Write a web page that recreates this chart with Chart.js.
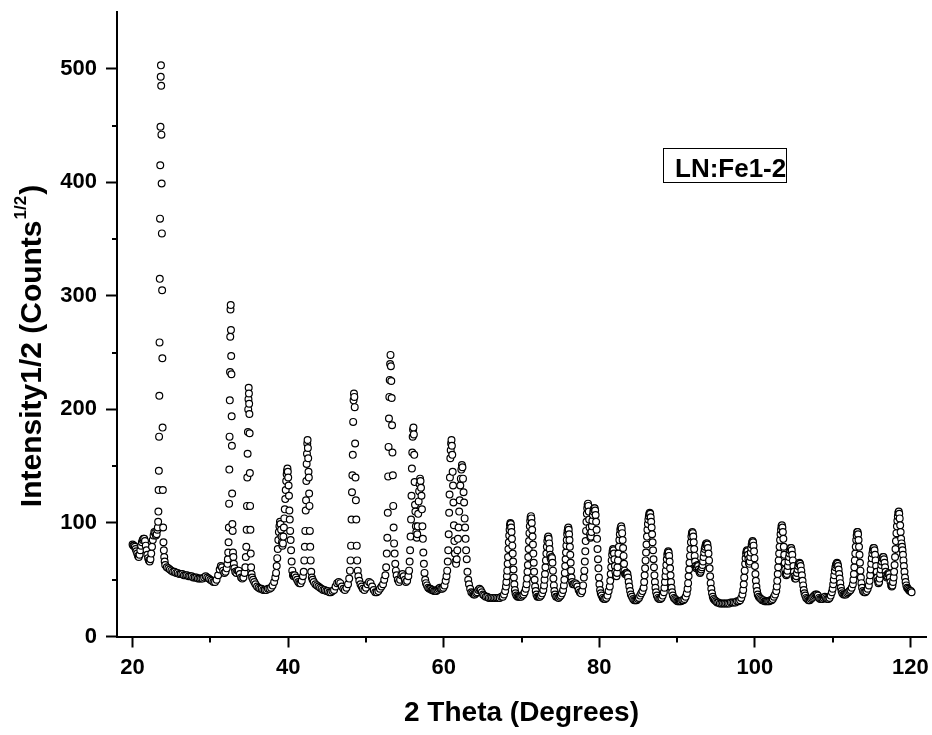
<!DOCTYPE html>
<html>
<head>
<meta charset="utf-8">
<title>LN:Fe1-2 XRD</title>
<script src="https://cdn.jsdelivr.net/npm/chart.js@4.4.0/dist/chart.umd.min.js"></script>
<style>
  html, body { margin: 0; padding: 0; background: #fff; }
  #xrdChart { display: block; }
</style>
</head>
<body>
<canvas id="xrdChart" width="932" height="735"></canvas>
<script>
// axis ticks and texts
const xMajorTicks = [20, 40, 60, 80, 100, 120];
const xMinorTicks = [30, 50, 70, 90, 110];
const yMajorTicks = [0, 100, 200, 300, 400, 500];
const yMinorTicks = [50, 150, 250, 350, 450];
const xTitle = '2 Theta (Degrees)';
const yTitleMain = 'Intensity1/2 (Counts';
const yTitleSup = '1/2';
const sampleLabel = 'LN:Fe1-2';

// scan points [2theta, intensity^1/2]
const scanLow = [
  [20.00,81],[20.10,80],
  [20.20,80],[20.30,79],[20.40,77],[20.50,75],[20.60,73],[20.70,71],[20.80,70],[20.90,72],[21.00,76],[21.10,80],
  [21.20,83],[21.30,85],[21.40,86],[21.50,86],[21.60,84],[21.70,80],[21.80,76],[21.90,72],[22.00,69],[22.10,67],
  [22.20,66],[22.30,68],[22.40,73],[22.50,79],[22.60,85],[22.70,89],[22.80,92],[22.90,91],[23.00,89],[23.10,90],[23.20,94],
  [23.25,96],[23.29,101],[23.32,110],[23.35,129],[23.38,146],[23.41,176],[23.44,212],[23.47,259],[23.50,315],[23.53,368],
  [23.56,415],[23.59,449],[23.62,493],[23.65,503],[23.68,485],[23.71,442],[23.74,399],[23.77,355],[23.80,305],[23.83,245],
  [23.86,184],[23.89,129],[23.93,96],[23.97,83],[24.02,76],[24.07,70],[24.13,66],[24.20,63],
  [24.40,61],[24.60,60],[24.80,59],[25.00,58],[25.20,57],[25.40,57],[25.60,56],[25.80,56],[26.00,55],[26.20,55],
  [26.40,55],[26.60,54],[26.80,54],[27.00,54],[27.20,53],[27.40,53],[27.60,53],[27.80,52],[28.00,52],[28.20,52],
  [28.40,51],[28.60,51],[28.80,51],[29.00,51],[29.20,52],[29.40,53],[29.60,52],[29.80,51],[30.00,50],[30.20,49],
  [30.40,48],[30.60,48],[30.80,50],[31.00,54],[31.20,59],[31.35,62],[31.50,61],[31.65,58],[31.80,56],[31.95,57],
  [32.10,60],[32.20,64],
  [32.25,68],[32.30,74],[32.34,83],[32.38,96],[32.41,117],[32.44,147],[32.47,176],[32.50,208],[32.53,233],[32.56,264],
  [32.59,288],[32.62,292],[32.65,270],[32.68,247],[32.71,231],[32.74,194],[32.77,168],[32.80,126],[32.83,99],[32.87,93],
  [32.91,74],[32.96,70],[33.02,64],
  [33.10,60],[33.20,57],[33.35,56],[33.50,58],[33.65,58],[33.80,55],[33.95,52],[34.10,51],[34.25,52],[34.40,56],
  [34.50,61],[34.56,70],[34.62,79],[34.67,94],[34.71,115],[34.75,140],[34.79,161],[34.83,180],[34.87,200],[34.90,209],
  [34.93,219],[34.96,214],[34.99,205],[35.02,196],[35.05,179],[35.08,144],[35.11,115],[35.15,94],[35.19,73],[35.24,61],
  [35.30,55],[35.37,52]
];

const scanMid = [
  [35.50,50],[35.65,48],[35.80,46],[36.00,44],[36.20,43],[36.40,42],[36.60,42],[36.80,41],[37.00,41],[37.20,41],
  [37.40,42],[37.60,42],[37.80,43],[38.00,45],[38.20,48],[38.35,52],
  [38.45,56],[38.53,62],[38.60,69],[38.67,77],[38.74,85],[38.81,92],[38.88,97],[38.95,101],[39.02,99],[39.09,94],
  [39.15,88],[39.21,83],[39.27,80],[39.33,82],[39.39,88],[39.45,96],[39.51,104],[39.57,112],[39.63,121],[39.69,129],
  [39.75,137],[39.81,143],[39.86,146],[39.91,148],[39.96,145],[40.01,140],[40.06,133],[40.11,124],[40.16,111],[40.21,103],
  [40.26,93],[40.32,85],[40.38,76],[40.45,66],[40.53,58],[40.62,54],[40.72,53],
  [40.85,54],[41.00,52],[41.15,50],[41.30,48],[41.45,47],[41.60,47],[41.75,49],[41.90,53],
  [42.00,57],[42.08,67],[42.15,79],[42.21,93],[42.26,111],[42.30,120],[42.34,137],[42.38,152],[42.42,161],[42.46,170],
  [42.50,173],[42.54,166],[42.58,157],[42.62,145],[42.66,140],[42.70,126],[42.74,115],[42.79,93],[42.84,79],[42.90,67],
  [42.97,57],[43.05,52],
  [43.15,50],[43.30,48],[43.50,46],[43.70,45],[43.90,44],[44.10,43],[44.30,42],[44.50,41],[44.70,41],[44.90,40],
  [45.10,40],[45.30,39],[45.50,39],[45.70,40],[45.90,41],[46.10,44],[46.30,47],[46.50,48],[46.70,47],[46.90,44],
  [47.10,42],[47.30,41],[47.50,43],[47.70,46],[47.85,51],
  [47.95,58],[48.02,67],[48.09,80],[48.15,103],[48.21,127],[48.26,142],[48.31,160],[48.36,189],[48.41,208],[48.46,214],
  [48.51,211],[48.56,202],[48.61,170],[48.66,140],[48.71,120],[48.76,103],[48.82,80],[48.88,67],[48.95,58],[49.03,53],
  [49.15,49],[49.30,46],[49.45,44],[49.60,42],[49.80,41],[50.00,43],[50.20,46],[50.40,48],[50.60,47],[50.80,44],
  [51.00,41],[51.20,39],[51.40,39],[51.60,40],[51.80,42],[52.00,44],[52.20,46],[52.35,50],[52.50,54],
  [52.60,61],[52.68,73],[52.75,87],[52.81,109],[52.86,141],[52.91,167],[52.96,192],[53.01,211],[53.06,226],[53.11,240],
  [53.16,248],[53.21,238],[53.26,225],[53.31,210],[53.36,186],[53.41,162],[53.46,142],[53.51,115],[53.56,96],[53.62,82],
  [53.69,73],[53.77,64],
  [53.85,58],[53.95,54],[54.10,50],[54.25,48],[54.40,50],[54.55,54],[54.70,55],[54.85,53],[55.00,50],[55.15,48],
  [55.30,49],[55.45,53],
  [55.55,58],[55.62,66],[55.68,76],[55.74,88],[55.80,103],[55.86,124],[55.91,148],[55.96,162],[56.01,176],[56.06,182],
  [56.11,184],[56.16,178],[56.21,160],[56.26,136],[56.31,116],[56.36,110],[56.42,97],[56.48,92],[56.54,87],[56.60,90],
  [56.66,97],[56.72,108],[56.78,119],[56.84,128],[56.90,134],[56.96,139],[57.02,137],[57.08,131],[57.14,124],[57.20,112],
  [57.26,97],[57.32,86],[57.38,74],[57.45,64],[57.53,56],[57.62,50],
  [57.72,47],[57.85,45],[58.00,43],[58.15,42],[58.30,42],[58.45,41],[58.60,41],[58.75,40],[58.90,40],[59.05,40],
  [59.20,41],[59.35,42],[59.50,43],[59.65,42],[59.80,42],[59.95,43],[60.10,45],[60.25,49],[60.36,53],
  [60.45,58],[60.52,66],[60.58,76],[60.64,90],[60.70,109],[60.75,125],[60.80,140],[60.85,157],[60.90,164],[60.95,170],
  [61.00,173],[61.05,168],[61.10,160],[61.15,145],[61.20,133],[61.25,118],[61.31,98],[61.37,84],[61.44,73],[61.51,66],
  [61.59,64],[61.67,68],[61.75,76],[61.83,86],[61.91,96],[61.99,110],[62.06,120],[62.13,133],[62.20,139],[62.27,147],
  [62.34,151],[62.41,149],[62.48,139],[62.55,127],[62.62,118],[62.69,104],[62.75,96],[62.81,86],[62.88,76],[62.96,68],
  [63.05,57],[63.15,50]
];

const scanHigh = [
  [63.25,46],[63.40,42],[63.55,39],[63.70,38],[63.85,37],[64.00,37],[64.15,38],[64.30,39],[64.45,41],[64.60,42],
  [64.75,41],[64.90,39],[65.05,37],[65.20,36],[65.40,35],[65.60,35],[65.80,34],[66.00,34],[66.20,34],[66.40,34],
  [66.60,34],[66.80,34],[67.00,34],[67.20,34],[67.40,35],[67.60,35],[67.75,37],[67.90,40],
  [68.00,44],[68.06,48],[68.12,53],[68.17,58],[68.22,64],[68.27,70],[68.32,77],[68.37,83],[68.42,89],[68.47,94],
  [68.52,98],[68.57,100],[68.62,99],[68.67,96],[68.72,92],[68.77,86],[68.82,80],[68.87,73],[68.92,66],[68.97,59],
  [69.02,52],[69.08,46],[69.15,41],[69.23,38],
  [69.35,36],[69.50,35],[69.65,35],[69.80,35],[69.95,35],[70.10,36],[70.25,37],[70.40,39],[70.55,42],
  [70.65,46],[70.71,51],[70.77,57],[70.82,63],[70.87,70],[70.92,77],[70.97,84],[71.02,91],[71.07,97],[71.12,102],
  [71.17,105],[71.22,106],[71.27,104],[71.32,100],[71.37,94],[71.42,88],[71.47,81],[71.52,73],[71.57,65],[71.62,57],
  [71.68,50],[71.75,44],[71.83,40],[71.92,37],
  [72.05,35],[72.20,35],[72.35,35],[72.50,36],[72.65,38],[72.80,41],
  [72.90,45],[72.96,50],[73.02,55],[73.08,61],[73.14,67],[73.20,73],[73.26,79],[73.32,84],[73.38,87],[73.44,88],
  [73.50,86],[73.56,82],[73.62,77],[73.68,72],[73.74,69],[73.80,68],[73.86,70],[73.92,69],[73.98,65],[74.04,58],
  [74.10,51],[74.16,45],[74.23,40],[74.31,37],
  [74.45,35],[74.60,35],[74.75,34],[74.90,35],[75.05,36],[75.20,38],[75.35,41],
  [75.45,45],[75.51,50],[75.57,56],[75.62,62],[75.67,68],[75.72,74],[75.77,80],[75.82,85],[75.87,90],[75.92,93],
  [75.97,95],[76.02,96],[76.07,94],[76.12,90],[76.17,85],[76.22,79],[76.27,72],[76.32,65],[76.37,58],[76.43,52],
  [76.50,48],
  [76.60,46],[76.75,46],[76.90,47],[77.05,46],[77.20,44],[77.35,41],[77.50,39],[77.65,38],[77.80,40],[77.92,45],
  [78.02,52],[78.08,58],[78.14,66],[78.20,75],[78.25,84],[78.30,93],[78.35,101],[78.40,108],[78.45,113],[78.50,116],
  [78.55,117],[78.60,115],[78.65,110],[78.70,103],[78.75,96],[78.81,90],[78.87,87],[78.93,88],[78.99,92],[79.05,97],
  [79.11,102],[79.17,107],[79.23,110],[79.29,112],[79.35,113],[79.41,113],[79.47,111],[79.53,107],[79.59,101],[79.65,94],
  [79.71,86],[79.77,77],[79.83,68],[79.89,60],[79.95,52],[80.02,46],[80.10,41],[80.19,38],
  [80.30,36],[80.45,34],[80.60,33],[80.75,33],[80.90,34],[81.05,36],[81.20,40],
  [81.35,44],[81.41,49],[81.47,55],[81.53,61],[81.59,67],[81.65,72],[81.71,75],[81.77,77],[81.83,76],[81.89,73],
  [81.95,68],[82.01,62],[82.07,57],[82.14,54],[82.21,53],[82.28,56],[82.34,61],[82.40,67],[82.46,73],[82.52,79],
  [82.58,85],[82.64,90],[82.70,94],[82.76,96],[82.82,97],[82.88,95],[82.94,91],[83.00,85],[83.06,78],[83.12,71],
  [83.18,64],[83.24,58],[83.31,55],[83.38,55],[83.46,56],[83.54,56],[83.62,55],[83.70,52],[83.78,48],[83.86,44],
  [83.96,40],[84.06,37],
  [84.20,35],[84.35,33],[84.50,32],[84.65,32],[84.80,32],[84.95,33],[85.10,34],[85.25,36],[85.40,38],[85.55,40],
  [85.70,43],[85.77,48],[85.83,54],[85.89,60],[85.95,67],[86.01,74],[86.07,81],[86.13,88],[86.19,94],[86.25,99],
  [86.31,103],[86.37,106],[86.43,108],[86.49,109],[86.55,108],[86.61,105],[86.67,101],[86.73,96],[86.79,90],[86.85,83],
  [86.91,76],[86.97,68],[87.03,61],[87.09,54],[87.15,48],[87.22,43],[87.30,39],
  [87.40,36],[87.55,34],[87.70,33],[87.85,33],[88.00,34],[88.15,36],[88.30,39],
  [88.38,43],[88.44,48],[88.50,53],[88.56,58],[88.62,63],[88.68,68],[88.74,72],[88.80,74],[88.86,75],[88.92,74],
  [88.98,71],[89.04,66],[89.10,60],[89.16,54],[89.22,48],[89.29,43],[89.37,39],[89.46,36],
  [89.60,34],[89.75,33],[89.90,32],[90.05,31],[90.20,31],[90.35,31],[90.50,31],[90.65,32],[90.80,32],[90.95,33],
  [91.10,35],[91.25,38],
  [91.35,42],[91.42,47],[91.48,53],[91.54,59],[91.60,65],[91.66,71],[91.72,77],[91.78,83],[91.84,88],[91.90,91],
  [91.96,92],[92.02,91],[92.08,88],[92.14,83],[92.20,77],[92.26,71],[92.32,66],[92.39,62],[92.47,60],[92.55,61],
  [92.63,63],[92.71,62],[92.79,59],[92.87,57],[92.95,56],[93.03,57],[93.11,59],[93.19,61],[93.27,63],[93.34,66],
  [93.41,70],[93.48,74],[93.55,77],[93.62,79],[93.69,81],[93.76,82],[93.83,82],[93.90,81],[93.97,78],[94.04,73],
  [94.11,67],[94.18,60],[94.25,53],[94.32,47],[94.40,42],[94.49,38],[94.59,35],
  [94.70,33],[94.85,32],[95.00,31],[95.15,30],[95.30,30],[95.50,29],[95.70,29],[95.90,29],[96.10,29],[96.30,29],
  [96.50,29],[96.70,29],[96.90,30],[97.10,30],[97.30,30],[97.50,30],[97.70,31],[97.90,31],[98.10,32],[98.25,34],
  [98.40,37],
  [98.50,41],[98.57,46],[98.63,52],[98.69,58],[98.75,64],[98.81,69],[98.87,73],[98.93,75],[98.99,76],[99.05,75],
  [99.11,72],[99.17,68],[99.23,65],[99.29,64],[99.35,66],[99.41,70],[99.47,74],[99.53,78],[99.59,81],[99.65,83],
  [99.71,84],[99.77,83],[99.83,80],[99.89,75],[99.95,69],[100.01,62],[100.07,55],[100.13,49],[100.20,44],[100.28,40],
  [100.37,37],
  [100.50,35],[100.65,34],[100.80,33],[100.95,32],[101.10,32],[101.25,31],[101.40,31],[101.55,31],[101.70,31],[101.85,31],
  [102.00,32],[102.15,32],[102.30,33],[102.45,35],[102.60,37],[102.75,40],
  [102.82,44],[102.88,49],[102.94,55],[103.00,61],[103.06,67],[103.12,73],[103.18,79],[103.24,85],[103.30,90],[103.36,94],
  [103.42,97],[103.48,98],[103.54,96],[103.60,92],[103.66,86],[103.72,79],[103.78,72],[103.84,65],[103.90,59],[103.97,55],
  [104.04,54],
  [104.11,55],[104.18,58],[104.25,62],[104.32,66],[104.39,70],[104.46,73],[104.53,76],[104.60,78],[104.67,78],[104.74,76],
  [104.81,72],[104.88,67],[104.95,62],[105.02,57],[105.09,53],[105.16,51],
  [105.25,51],[105.33,53],[105.41,56],[105.49,59],[105.57,62],[105.65,64],[105.73,65],[105.81,64],[105.89,62],[105.97,58],
  [106.05,54],[106.13,49],[106.21,45],[106.29,41],[106.38,38],[106.48,36],
  [106.60,34],[106.75,33],[106.90,32],[107.05,32],[107.20,33],[107.35,34],[107.50,35],[107.65,36],[107.80,37],[107.95,37],
  [108.10,36],[108.25,34],[108.40,33],[108.55,33],[108.70,33],[108.85,34],[109.00,35],[109.15,34],[109.30,33],[109.45,33],
  [109.60,34],[109.75,36],[109.90,39],
  [110.00,42],[110.07,46],[110.14,50],[110.21,54],[110.28,58],[110.35,61],[110.42,63],[110.49,64],[110.56,65],[110.63,64],
  [110.70,62],[110.77,59],[110.84,55],[110.91,51],[110.98,47],[111.06,43],[111.15,40],
  [111.25,38],[111.40,37],[111.55,37],[111.70,37],[111.85,38],[112.00,39],[112.15,40],[112.30,41],[112.45,43],[112.60,46],
  [112.67,50],[112.73,55],[112.79,61],[112.85,67],[112.91,73],[112.97,79],[113.03,85],[113.09,89],[113.15,92],[113.21,92],
  [113.27,90],[113.33,85],[113.39,79],[113.45,72],[113.51,65],[113.57,58],[113.63,52],[113.70,47],[113.78,43],
  [113.90,40],[114.05,39],[114.20,39],[114.35,40],[114.50,42],[114.65,45],
  [114.75,49],[114.82,54],[114.89,59],[114.96,64],[115.03,69],[115.10,73],[115.17,76],[115.24,78],[115.31,78],[115.38,76],
  [115.45,72],[115.52,67],[115.59,62],[115.66,57],[115.73,52],[115.81,49],[115.89,47],
  [115.97,48],[116.04,51],[116.11,55],[116.18,59],[116.25,63],[116.32,66],[116.39,69],[116.46,70],[116.53,70],[116.60,68],
  [116.67,65],[116.74,61],[116.81,57],[116.88,54],[116.96,52],[117.04,53],[117.12,55],[117.20,56],[117.28,55],[117.36,52],
  [117.44,48],[117.52,45],[117.60,44],[117.68,45],[117.76,48],
  [117.84,52],[117.90,57],[117.96,63],[118.02,70],[118.08,77],[118.14,84],[118.20,91],[118.26,97],[118.32,102],[118.38,106],
  [118.44,109],[118.50,110],[118.56,108],[118.62,104],[118.68,98],[118.74,92],[118.80,86],[118.86,82],[118.92,79],[118.98,76],
  [119.04,72],[119.10,67],[119.16,62],[119.23,57],[119.30,52],[119.38,48],[119.47,45],[119.57,43],[119.68,42],[119.80,41],
  [119.92,40],[120.05,40],[120.15,39]
];

const FONT = '"Liberation Sans", Arial, Helvetica, sans-serif';

// minor ticks, rotated y title with superscript, sample label box
const decorPlugin = {
  id: 'decor',
  afterDraw(chart) {
    const ctx = chart.ctx;
    const area = chart.chartArea;
    const xs = chart.scales.x;
    const ys = chart.scales.y;
    ctx.save();
    ctx.strokeStyle = '#000';
    ctx.lineWidth = 2;
    xMinorTicks.forEach(function (v) {
      const px = Math.round(xs.getPixelForValue(v));
      ctx.beginPath();
      ctx.moveTo(px, area.bottom);
      ctx.lineTo(px, area.bottom + 6);
      ctx.stroke();
    });
    yMinorTicks.forEach(function (v) {
      const py = Math.round(ys.getPixelForValue(v));
      ctx.beginPath();
      ctx.moveTo(area.left, py);
      ctx.lineTo(area.left - 5, py);
      ctx.stroke();
    });

    // y axis title
    const mainFont = 'bold 30px ' + FONT;
    const supFont = 'bold 17px ' + FONT;
    ctx.font = mainFont;
    const wMain = ctx.measureText(yTitleMain).width;
    const wClose = ctx.measureText(')').width;
    ctx.font = supFont;
    const wSup = ctx.measureText(yTitleSup).width;
    const total = wMain + wSup + wClose + 2;
    ctx.translate(41, 346);
    ctx.rotate(-Math.PI / 2);
    ctx.fillStyle = '#000';
    ctx.textBaseline = 'alphabetic';
    ctx.textAlign = 'left';
    let cx = -total / 2;
    ctx.font = mainFont;
    ctx.fillText(yTitleMain, cx, 0);
    cx += wMain + 1;
    ctx.font = supFont;
    ctx.fillText(yTitleSup, cx, -15);
    cx += wSup + 1;
    ctx.font = mainFont;
    ctx.fillText(')', cx, 0);
    ctx.restore();

    // sample label
    ctx.save();
    ctx.strokeStyle = '#000';
    ctx.lineWidth = 1;
    ctx.strokeRect(663.5, 148.5, 123, 34);
    ctx.fillStyle = '#000';
    ctx.font = 'bold 26px ' + FONT;
    ctx.textBaseline = 'alphabetic';
    ctx.textAlign = 'left';
    ctx.fillText(sampleLabel, 675, 177);
    ctx.restore();
  }
};

// keep the plot box exactly where the layout padding puts it
function noEdgePadding(s) {
  s.paddingLeft = 0;
  s.paddingRight = 0;
  s.paddingTop = 0;
  s.paddingBottom = 0;
}

const allPoints = scanLow.concat(scanMid, scanHigh).map(function (p) {
  return { x: p[0], y: p[1] };
});

var ctx = document.getElementById('xrdChart').getContext('2d');
var myChart = new Chart(ctx, {
  type: 'scatter',
  data: {
    datasets: [{
      data: allPoints,
      showLine: false,
      pointRadius: 3.4,
      pointHoverRadius: 3.4,
      pointBorderWidth: 1.2,
      pointBackgroundColor: '#fff',
      pointBorderColor: '#000'
    }]
  },
  options: {
    responsive: false,
    animation: false,
    devicePixelRatio: 1,
    events: [],
    layout: { padding: { top: 12, right: 6, left: 0, bottom: 0 } },
    plugins: {
      legend: { display: false },
      tooltip: { enabled: false }
    },
    scales: {
      x: {
        type: 'linear',
        min: 18,
        max: 122,
        afterBuildTicks: function (s) { s.ticks = xMajorTicks.map(function (v) { return { value: v }; }); },
        afterFit: function (s) { s.height = 98.5; noEdgePadding(s); },
        ticks: {
          color: '#000',
          autoSkip: false,
          maxRotation: 0,
          padding: 7,
          font: { family: FONT, size: 22, weight: 'bold' }
        },
        grid: { display: true, drawOnChartArea: false, drawTicks: true, tickLength: 11, tickWidth: 2, tickColor: '#000' },
        border: { display: true, color: '#000', width: 2 },
        title: {
          display: true,
          text: xTitle,
          color: '#000',
          font: { family: FONT, size: 28, weight: 'bold' },
          padding: { top: 0, bottom: 5 }
        }
      },
      y: {
        type: 'linear',
        min: 0,
        max: 550,
        afterBuildTicks: function (s) { s.ticks = yMajorTicks.map(function (v) { return { value: v }; }); },
        afterFit: function (s) { s.width = 117; noEdgePadding(s); },
        ticks: {
          color: '#000',
          autoSkip: false,
          padding: 9,
          font: { family: FONT, size: 22, weight: 'bold' }
        },
        grid: { display: true, drawOnChartArea: false, drawTicks: true, tickLength: 11, tickWidth: 2, tickColor: '#000' },
        border: { display: true, color: '#000', width: 2 }
      }
    }
  },
  plugins: [decorPlugin]
});
</script>
</body>
</html>
